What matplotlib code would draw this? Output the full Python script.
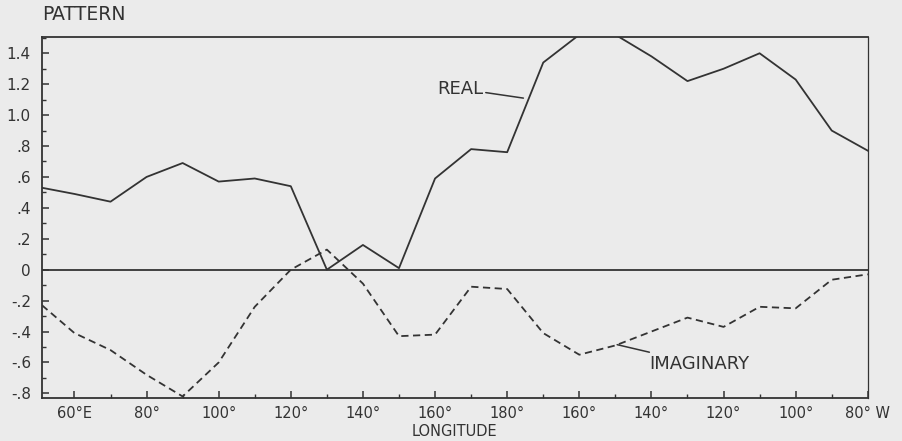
import numpy as np
import matplotlib.pyplot as plt
from matplotlib.ticker import MultipleLocator

# Longitude measured eastward (280 = 80 W)
lon = [51, 60, 70, 80, 90, 100, 110, 120, 130, 140, 150, 160, 170, 180,
       190, 200, 210, 220, 230, 240, 250, 260, 270, 280]
real = [0.53, 0.49, 0.44, 0.60, 0.69, 0.57, 0.59, 0.54, 0.00, 0.16, 0.01, 0.59,
        0.78, 0.76, 1.34, 1.52, 1.52, 1.38, 1.22, 1.30, 1.40, 1.23, 0.90, 0.77]
imag = [-0.23, -0.41, -0.52, -0.68, -0.82, -0.60, -0.24, 0.00, 0.13, -0.09, -0.43,
        -0.42, -0.11, -0.125, -0.41, -0.55, -0.49, -0.40, -0.31, -0.37, -0.24,
        -0.25, -0.065, -0.03]

xticks = [60, 80, 100, 120, 140, 160, 180, 200, 220, 240, 260, 280]
xlabels = ['60°E', '80°', '100°', '120°', '140°', '160°', '180°',
           '160°', '140°', '120°', '100°', '80° W']
yticks = [-0.8, -0.6, -0.4, -0.2, 0, 0.2, 0.4, 0.6, 0.8, 1.0, 1.2, 1.4]
ylabels = ['-.8', '-.6', '-.4', '-.2', '0', '.2', '.4', '.6', '.8', '1.0', '1.2', '1.4']

bg = '#ebebeb'
ink = '#333333'
plt.rcParams['font.family'] = ['DejaVu Sans']

fig = plt.figure(figsize=(9.03, 4.41), dpi=100, facecolor=bg)
ax = fig.add_axes([0.0465, 0.0975, 0.9145, 0.8185], facecolor=bg)

ax.plot(lon, real, color=ink, lw=1.3)
ax.plot(lon, imag, color=ink, lw=1.3, ls=(0, (4, 2.5)))
ax.axhline(0, color=ink, lw=1.3)

ax.set_xlim(51, 280)
ax.set_ylim(-0.83, 1.505)

ax.set_xticks(xticks)
ax.set_xticklabels(xlabels, fontsize=10.5, color=ink)
ax.xaxis.set_minor_locator(MultipleLocator(10))
ax.set_yticks(yticks)
ax.set_yticklabels(ylabels, fontsize=11, color=ink)
ax.yaxis.set_minor_locator(MultipleLocator(0.1))
ax.tick_params(which='major', direction='in', length=5, width=1.1, color=ink, pad=6)
ax.tick_params(which='minor', direction='in', length=3, width=1.0, color=ink)
ax.tick_params(axis='y', pad=8)
ax.tick_params(top=False, right=False, which='both')

for side, sp in ax.spines.items():
    sp.set_color(ink)
    sp.set_linewidth(1.3)
ax.spines['right'].set_linewidth(0.9)

ax.text(0, 1.035, 'PATTERN', transform=ax.transAxes, fontsize=13.5, color=ink,
        ha='left', va='bottom')
ax.set_xlabel('LONGITUDE', fontsize=10.5, color=ink, labelpad=2)

# curve labels with leader lines
ax.annotate('REAL', xy=(184.5, 1.11), xytext=(160.5, 1.17), fontsize=13,
            color=ink, ha='left', va='center',
            arrowprops=dict(arrowstyle='-', color=ink, lw=1.1, shrinkA=0, shrinkB=0))
ax.annotate('IMAGINARY', xy=(210.5, -0.485), xytext=(219.5, -0.61), fontsize=13,
            color=ink, ha='left', va='center',
            arrowprops=dict(arrowstyle='-', color=ink, lw=1.1, shrinkA=0, shrinkB=0))

fig.savefig('out.png', dpi=100, facecolor=bg)
